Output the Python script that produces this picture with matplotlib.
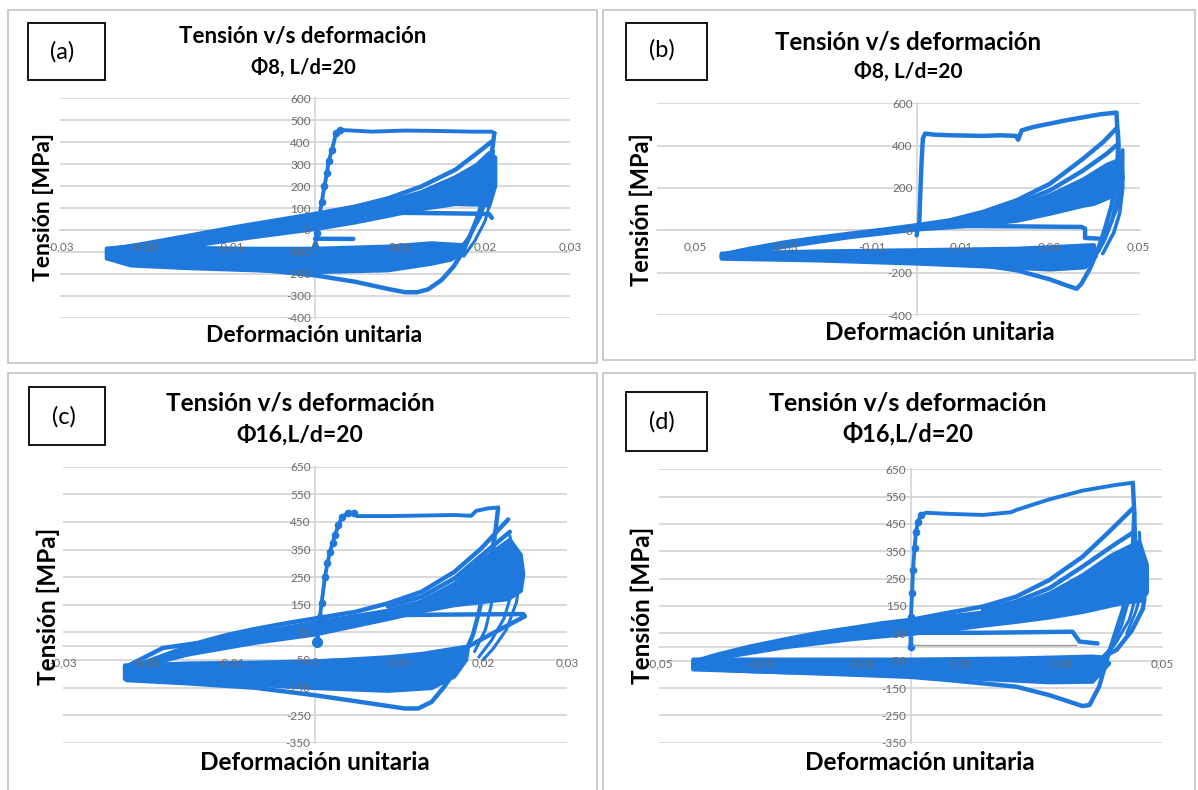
import matplotlib
matplotlib.use("Agg")
import matplotlib.pyplot as plt
from matplotlib.patches import Rectangle

BLUE = "#1f78dc"
W, H = 1198, 790

plt.rcParams['font.family'] = ['Lato', 'DejaVu Sans']

# ---------------- panel (a) : Phi8 ----------------
a_xticks = [-0.03, -0.02, -0.01, 0.0, 0.01, 0.02, 0.03]
a_xlabels = ["-0,03", "-0,02", "-0,01", "0", "0,01", "0,02", "0,03"]
a_yticks = [-400, -300, -200, -100, 0, 100, 200, 300, 400, 500, 600]

a_init_x = [0.0, 0.0002, 0.0005, 0.0008, 0.0011, 0.0014, 0.0016, 0.0020, 0.0025, 0.0029,
            0.0067, 0.0106, 0.0145, 0.0184, 0.0208, 0.0211]
a_init_y = [-76, -15, 61, 129, 198, 258, 312, 365, 444, 456, 448, 453, 451, 448, 448, 441]

a_out_x = [0.0211, 0.0209, 0.0204, 0.0198, 0.0190, 0.0182, 0.0173, 0.0163, 0.0149, 0.0133,
           0.0120, 0.0106, 0.0086, 0.0047, 0.0, -0.0051, -0.0110, -0.0169, -0.0216, -0.0241]
a_out_y = [441, 380, 243, 137, 46, -30, -106, -167, -228, -271, -284, -284, -269, -236,
           -207, -187, -167, -152, -140, -129]

a_top_x = [-0.0241, -0.0208, -0.0149, -0.0090, -0.0031, 0.0, 0.0047, 0.0086, 0.0125,
           0.0165, 0.0188, 0.0208]
a_top_y = [-88, -68, -27, 15, 53, 73, 106, 144, 198, 274, 342, 403]

a_fan_x = [-0.0241, -0.0208, -0.0149, -0.0090, -0.0031, 0.0, 0.0047, 0.0086, 0.0125, 0.0165,
           0.0190, 0.0205, 0.0212, 0.0212, 0.0205, 0.0196, 0.0165, 0.0125, 0.0086, 0.0047,
           0.0, -0.0071, -0.0149, -0.0216, -0.0241]
a_fan_y = [-95, -78, -40, 0, 38, 58, 92, 128, 172, 240, 295, 350, 330, 200, 110, 115, 118,
           95, 64, 34, 4, -32, -74, -92, -95]

a_comp_x = [0.0176, 0.0137, 0.0086, 0.0, -0.0070, -0.0149, -0.0216, -0.0245, -0.0245,
            -0.0216, -0.0149, -0.0070, 0.0, 0.0086, 0.0137, 0.0160, 0.0176]
a_comp_y = [-70, -61, -76, -86, -86, -82, -76, -85, -130, -162, -174, -184, -192, -184,
            -154, -135, -100]

a_drop1_x = [0.0210, 0.0205, 0.0195, 0.0180, 0.0165]
a_drop1_y = [360, 200, 60, -40, -110]
a_drop2_x = [0.0212, 0.0208, 0.0200, 0.0188, 0.0175]
a_drop2_y = [300, 150, 40, -50, -120]
a_drop3_x = [0.0205, 0.0198, 0.0185, 0.0170]
a_drop3_y = [250, 100, -10, -90]

a_mid_x = [0.0047, 0.0100, 0.0150, 0.0190, 0.0205, 0.0208]
a_mid_y = [76, 78, 76, 74, 72, 55]
a_low_x = [0.0, 0.0045]
a_low_y = [-40, -41]

# ---------------- panel (b) : Phi8 ----------------
b_xticks = [-0.05, -0.03, -0.01, 0.01, 0.03, 0.05]
b_xlabels = ["0,05", "-0,03", "-0,01", "0,01", "0,03", "0,05"]
b_yticks = [-400, -200, 0, 200, 400, 600]

b_init_x = [0.0, 0.0002, 0.0006, 0.0008, 0.0011, 0.0014, 0.0019, 0.0038, 0.0075, 0.0150,
            0.0188, 0.0224, 0.0229, 0.0237, 0.0263, 0.0338, 0.0414, 0.0451]
b_init_y = [-24, 8, 39, 165, 323, 433, 457, 452, 449, 446, 449, 446, 428, 472, 488, 520,
            548, 556]

b_out_x = [0.0451, 0.0455, 0.0451, 0.0440, 0.0425, 0.0410, 0.0391, 0.0372, 0.0361, 0.0338,
           0.0301, 0.0226, 0.0150, 0.0, -0.0150, -0.0300, -0.0440]
b_out_y = [551, 402, 244, 118, 8, -87, -181, -252, -276, -260, -232, -189, -165, -134,
           -118, -115, -126]

b_top_x = [-0.0440, -0.0376, -0.0300, -0.0226, -0.0150, -0.0075, 0.0, 0.0075, 0.0150,
           0.0226, 0.0301, 0.0376, 0.0421, 0.0450]
b_top_y = [-115, -87, -58, -36, -16, 3, 24, 47, 87, 142, 220, 339, 417, 480]
b_top2_x = [0.0150, 0.0226, 0.0301, 0.0376, 0.0429, 0.0451]
b_top2_y = [80, 126, 189, 283, 362, 402]

b_fan_x = [-0.0440, -0.0300, -0.0150, 0.0, 0.0150, 0.0226, 0.0301, 0.0376, 0.0430, 0.0460,
           0.0465, 0.0460, 0.0440, 0.0400, 0.0376, 0.0300, 0.0226, 0.0150, 0.0075, 0.0,
           -0.0150, -0.0300, -0.0440]
b_fan_y = [-120, -62, -22, 18, 72, 112, 165, 240, 310, 335, 250, 190, 160, 125, 116, 78,
           45, 28, 14, 4, -32, -78, -125]

b_comp_x = [0.0400, 0.0300, 0.0226, 0.0, -0.0226, -0.0440, -0.0440, -0.0226, 0.0, 0.0150,
            0.0301, 0.0380, 0.0405]
b_comp_y = [-70, -80, -87, -94, -100, -110, -134, -142, -157, -170, -185, -175, -120]

b_drop1_x = [0.0455, 0.0458, 0.0452, 0.0440, 0.0425, 0.0410]
b_drop1_y = [470, 300, 150, 40, -40, -100]
b_drop2_x = [0.0465, 0.0465, 0.0458, 0.0445, 0.0430, 0.0420]
b_drop2_y = [380, 200, 80, -10, -70, -110]
b_drop3_x = [0.0460, 0.0455, 0.0435, 0.0420]
b_drop3_y = [300, 120, 20, -60]

b_mid_x = [0.0, 0.0150, 0.0372, 0.0380, 0.0380, 0.0410]
b_mid_y = [20, 20, 16, 8, -36, -39]

# ---------------- panel (c) : Phi16 ----------------
c_xticks = [-0.03, -0.02, -0.01, 0.0, 0.01, 0.02, 0.03]
c_xlabels = ["-0,03", "-0,02", "-0,01", "0", "0,01", "0,02", "0,03"]
c_yticks = [-350, -250, -150, -50, 50, 150, 250, 350, 450, 550, 650]

c_init_x = [0.0003, 0.0006, 0.0008, 0.0012, 0.0015, 0.0018, 0.0021, 0.0024, 0.0028, 0.0032,
            0.0039, 0.0046, 0.0050, 0.0087, 0.0127, 0.0166, 0.0186, 0.0192, 0.0206, 0.0218]
c_init_y = [16, 106, 155, 251, 300, 342, 372, 402, 438, 466, 483, 483, 471, 471, 473, 475,
            472, 490, 499, 502]

c_out_x = [0.0218, 0.0215, 0.0210, 0.0203, 0.0195, 0.0188, 0.0182, 0.0170, 0.0154, 0.0139,
           0.0123, 0.0107, 0.0067, 0.0, -0.0071, -0.0150, -0.0224]
c_out_y = [499, 420, 330, 230, 120, 40, -2, -75, -147, -202, -226, -226, -208, -178, -151,
           -135, -123]

c_top_x = [-0.0226, -0.0181, -0.0140, -0.0105, -0.0071, -0.0032, 0.0, 0.0048, 0.0087,
           0.0127, 0.0166, 0.0198, 0.0230]
c_top_y = [-77, -7, 11, 40, 62, 84, 100, 124, 155, 197, 269, 354, 459]
c_top2_x = [0.0087, 0.0127, 0.0166, 0.0206, 0.0232]
c_top2_y = [143, 179, 245, 348, 414]

c_fan_x = [-0.0226, -0.0150, -0.0071, 0.0, 0.0087, 0.0127, 0.0166, 0.0200, 0.0232, 0.0245,
           0.0248, 0.0245, 0.0230, 0.0200, 0.0166, 0.0127, 0.0087, 0.0, -0.0071, -0.0150,
           -0.0226]
c_fan_y = [-85, 0, 48, 85, 128, 162, 225, 315, 385, 330, 260, 200, 170, 160, 148, 126, 98,
           42, 12, -30, -88]

c_comp_x = [0.0182, 0.0127, 0.0087, 0.0, -0.0071, -0.0150, -0.0226, -0.0226, -0.0150,
            -0.0071, 0.0, 0.0087, 0.0139, 0.0166, 0.0180]
c_comp_y = [-10, -35, -45, -55, -60, -63, -70, -119, -131, -140, -152, -162, -152, -110, -50]

c_tri_x = [0.0087, 0.0150, 0.0200, 0.0248, 0.0250, 0.0220, 0.0182, 0.0127, 0.0087, 0.0]
c_tri_y = [112, 114, 115, 116, 108, 60, -2, -29, -41, -57]

c_drop1_x = [0.0232, 0.0238, 0.0235, 0.0225, 0.0210, 0.0195]
c_drop1_y = [400, 300, 200, 100, 20, -40]
c_drop2_x = [0.0215, 0.0212, 0.0210, 0.0203, 0.0190]
c_drop2_y = [420, 300, 150, 60, -20]
c_drop3_x = [0.0245, 0.0240, 0.0228, 0.0212, 0.0200]
c_drop3_y = [280, 160, 60, -10, -50]

# ---------------- panel (d) : Phi16 ----------------
d_xticks = [-0.05, -0.03, -0.01, 0.01, 0.03, 0.05]
d_xlabels = ["-0,05", "-0,03", "-0,01", "0,01", "0,03", "0,05"]
d_yticks = [-350, -250, -150, -50, 50, 150, 250, 350, 450, 550, 650]

d_init_x = [0.0, 0.0001, 0.0003, 0.0005, 0.0008, 0.0011, 0.0015, 0.0021, 0.0031, 0.0077,
            0.0144, 0.0200, 0.0210, 0.0276, 0.0342, 0.0409, 0.0442]
d_init_y = [1, 111, 196, 282, 361, 422, 459, 483, 491, 487, 483, 493, 501, 540, 572, 593,
            601]

d_out_x = [0.0442, 0.0445, 0.0442, 0.0435, 0.0422, 0.0405, 0.0392, 0.0375, 0.0356, 0.0342,
           0.0276, 0.0210, 0.0077, 0.0, -0.0187, -0.0320, -0.0432]
d_out_y = [599, 489, 367, 245, 135, 38, -35, -145, -212, -216, -176, -145, -121, -109, -96,
           -88, -78]

d_top_x = [-0.0432, -0.0386, -0.0320, -0.0254, -0.0187, -0.0121, -0.0055, 0.0, 0.0077,
           0.0144, 0.0210, 0.0276, 0.0342, 0.0395, 0.0442]
d_top_y = [-54, -29, 1, 26, 50, 68, 87, 99, 126, 148, 184, 245, 330, 422, 507]
d_top2_x = [0.0144, 0.0210, 0.0276, 0.0342, 0.0409, 0.0445]
d_top2_y = [135, 166, 215, 294, 379, 422]

d_fan_x = [-0.0432, -0.0320, -0.0187, -0.0055, 0.0, 0.0077, 0.0144, 0.0210, 0.0276, 0.0342,
           0.0400, 0.0455, 0.0470, 0.0470, 0.0460, 0.0420, 0.0342, 0.0276, 0.0210, 0.0144,
           0.0077, 0.0, -0.0121, -0.0254, -0.0386, -0.0432]
d_fan_y = [-60, -8, 40, 76, 88, 112, 126, 152, 195, 262, 335, 385, 300, 200, 170, 160, 128,
           108, 92, 78, 62, 48, 28, -2, -42, -65]

d_comp_x = [0.0380, 0.0362, 0.0210, 0.0, -0.0187, -0.0432, -0.0432, -0.0254, 0.0, 0.0144,
            0.0276, 0.0362, 0.0395]
d_comp_y = [-38, -35, -42, -46, -46, -46, -82, -92, -104, -117, -129, -127, -60]

d_tri_x = [0.0435, 0.0465, 0.0462, 0.0440, 0.0410, 0.0380]
d_tri_y = [180, 175, 140, 60, -10, -40]

d_drop1_x = [0.0445, 0.0448, 0.0445, 0.0435, 0.0420, 0.0400, 0.0380]
d_drop1_y = [520, 400, 280, 180, 80, 0, -40]
d_drop2_x = [0.0455, 0.0458, 0.0450, 0.0435, 0.0410, 0.0390]
d_drop2_y = [420, 300, 200, 100, 20, -30]
d_drop3_x = [0.0465, 0.0462, 0.0448, 0.0430]
d_drop3_y = [330, 220, 130, 50]

d_mid_x = [0.0005, 0.0144, 0.0322, 0.0329, 0.0336, 0.0372]
d_mid_y = [52, 52, 56, 38, 20, 13]
d_gray_x = [0.0005, 0.0329]
d_gray_y = [7, 7]
d_zero_x = [0.0, 0.0]
d_zero_y = [50, -5]


def fig_rect(x0, y0, x1, y1):
    return [x0 / W, 1 - y1 / H, (x1 - x0) / W, (y1 - y0) / H]


def ftext(x, y, s, **kw):
    fig.text(x / W, 1 - y / H, s, ha='center', va='center', **kw)


def setup(ax, xlim, ylim, xticks, xlabels, yticks):
    ax.set_xlim(xlim)
    ax.set_ylim(ylim)
    ax.patch.set_alpha(0)
    for s in ['top', 'right']:
        ax.spines[s].set_visible(False)
    for s in ['left', 'bottom']:
        ax.spines[s].set_position(('data', 0))
        ax.spines[s].set_color('#d4d4d4')
        ax.spines[s].set_linewidth(1.2)
        ax.spines[s].set_zorder(0.6)
    for yv in yticks:
        ax.axhline(yv, color='#d9d9d9', lw=1.4, zorder=0.5)
    ax.set_xticks(xticks, xlabels)
    ax.set_yticks(yticks, [str(v) for v in yticks])
    ax.tick_params(axis='both', length=0, labelsize=8.5, labelcolor='#6a6a6a')
    ax.tick_params(axis='x', pad=8)
    ax.tick_params(axis='y', pad=3)
    ax.set_axisbelow(False)


def line(ax, x, y, lw=3.2, **kw):
    ax.plot(x, y, color=BLUE, lw=lw, solid_joinstyle='round', solid_capstyle='round',
            zorder=2, **kw)


def band(ax, x, y):
    ax.fill(x, y, color=BLUE, lw=3.0, ec=BLUE, joinstyle='round', zorder=2)


def init_line(ax, x, y, nmark):
    ax.plot(x, y, color=BLUE, lw=2.8, marker='o', ms=4.5, markevery=list(range(nmark)),
            solid_joinstyle='round', zorder=2)


fig = plt.figure(figsize=(W / 100, H / 100), dpi=100)

# panel frames
for (x0, y0, x1, y1) in [(8, 10, 597, 363), (603, 10, 1195, 360),
                         (8, 373, 597, 795), (603, 373, 1195, 795)]:
    fig.add_artist(Rectangle((x0 / W, 1 - y1 / H), (x1 - x0) / W, (y1 - y0) / H,
                             transform=fig.transFigure, fill=False, ec='#c4c4c4', lw=1.2))

# ---- (a)
ax = fig.add_axes(fig_rect(60, 98.3, 570, 317.7))
setup(ax, (-0.03, 0.03), (-400, 600), a_xticks, a_xlabels, a_yticks)
band(ax, a_fan_x, a_fan_y)
band(ax, a_comp_x, a_comp_y)
line(ax, a_out_x, a_out_y)
line(ax, a_top_x, a_top_y)
for xs, ys in [(a_drop1_x, a_drop1_y), (a_drop2_x, a_drop2_y), (a_drop3_x, a_drop3_y)]:
    line(ax, xs, ys, lw=2.2)
line(ax, a_mid_x, a_mid_y)
line(ax, a_low_x, a_low_y)
init_line(ax, a_init_x, a_init_y, 10)

# ---- (b)
ax = fig.add_axes(fig_rect(657, 103.3, 1140, 315))
setup(ax, (-0.0586, 0.0504), (-400, 600), b_xticks, b_xlabels, b_yticks)
band(ax, b_fan_x, b_fan_y)
band(ax, b_comp_x, b_comp_y)
line(ax, b_out_x, b_out_y)
line(ax, b_top_x, b_top_y)
line(ax, b_top2_x, b_top2_y)
for xs, ys in [(b_drop1_x, b_drop1_y), (b_drop2_x, b_drop2_y), (b_drop3_x, b_drop3_y)]:
    line(ax, xs, ys, lw=2.6)
line(ax, b_mid_x, b_mid_y)
line(ax, b_init_x, b_init_y)

# ---- (c)
ax = fig.add_axes(fig_rect(62.7, 466.7, 567, 742.7))
setup(ax, (-0.03, 0.03), (-350, 650), c_xticks, c_xlabels, c_yticks)
band(ax, c_fan_x, c_fan_y)
band(ax, c_comp_x, c_comp_y)
line(ax, c_out_x, c_out_y)
line(ax, c_top_x, c_top_y)
line(ax, c_top2_x, c_top2_y)
line(ax, c_tri_x, c_tri_y)
for xs, ys in [(c_drop1_x, c_drop1_y), (c_drop2_x, c_drop2_y), (c_drop3_x, c_drop3_y)]:
    line(ax, xs, ys, lw=2.2)
init_line(ax, c_init_x, c_init_y, 12)
ax.plot(c_init_x[:1], c_init_y[:1], 'o', color=BLUE, ms=7, zorder=2)

# ---- (d)
ax = fig.add_axes(fig_rect(659, 469.3, 1162, 742.7))
setup(ax, (-0.05, 0.05), (-350, 650), d_xticks, d_xlabels, d_yticks)
band(ax, d_fan_x, d_fan_y)
band(ax, d_comp_x, d_comp_y)
line(ax, d_out_x, d_out_y)
line(ax, d_top_x, d_top_y)
line(ax, d_top2_x, d_top2_y)
line(ax, d_tri_x, d_tri_y)
for xs, ys in [(d_drop1_x, d_drop1_y), (d_drop2_x, d_drop2_y), (d_drop3_x, d_drop3_y)]:
    line(ax, xs, ys, lw=2.2)
line(ax, d_mid_x, d_mid_y)
ax.plot(d_gray_x, d_gray_y, color='#9a9a9a', lw=1.0, zorder=2.1)
line(ax, d_zero_x, d_zero_y)
init_line(ax, d_init_x, d_init_y, 8)

# ---- texts
titles = [("Tensión v/s deformación", "Φ8, L/d=20", 303, 37, 68, 16, 14.5),
          ("Tensión v/s deformación", "Φ8, L/d=20", 908, 42, 72, 17.3, 15),
          ("Tensión v/s deformación", "Φ16,L/d=20", 300, 403, 435, 17.5, 16.5),
          ("Tensión v/s deformación", "Φ16,L/d=20", 908, 403, 434, 18, 17)]
for t1, t2, cx, y1, y2, fs1, fs2 in titles:
    ftext(cx, y1, t1, fontsize=fs1, fontweight='bold')
    ftext(cx, y2, t2, fontsize=fs2, fontweight='bold')

boxes = [("(a)", 28, 23, 105, 80, 62, 52), ("(b)", 626, 23, 707, 80, 662, 50),
         ("(c)", 29, 387, 105, 445, 64, 417), ("(d)", 626, 392, 707, 451, 662, 422)]
for lab, x0, y0, x1, y1, tx, ty in boxes:
    fig.add_artist(Rectangle((x0 / W, 1 - y1 / H), (x1 - x0) / W, (y1 - y0) / H,
                             transform=fig.transFigure, fill=False, ec='black', lw=1.3))
    ftext(tx, ty, lab, fontsize=17)

for cx, cy, fs in [(44, 207, 16.5), (641, 210, 17), (48, 606, 17.5), (642, 605, 17.5)]:
    ftext(cx, cy, "Tensión [MPa]", fontsize=fs, fontweight='bold', rotation=90)
for cx, cy, fs in [(314, 335, 16.5), (940, 333, 17.5), (315, 763, 17.5), (920, 763, 17.5)]:
    ftext(cx, cy, "Deformación unitaria", fontsize=fs, fontweight='bold')

fig.savefig("out.png", dpi=100)
